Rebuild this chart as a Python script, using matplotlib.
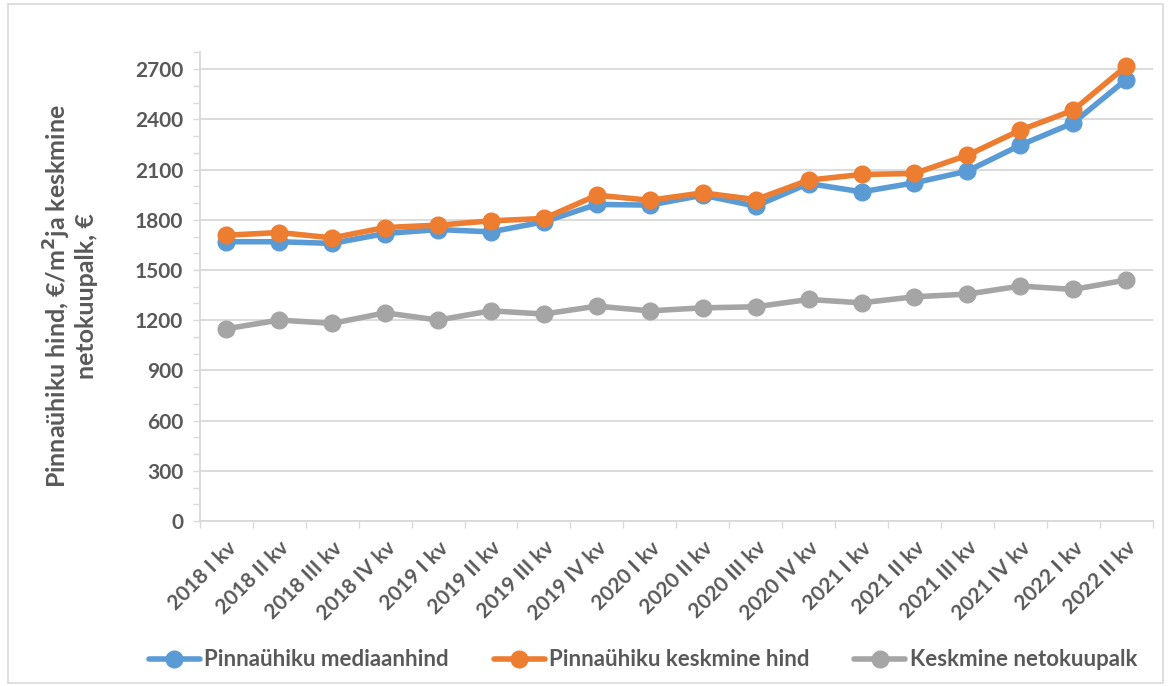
import matplotlib.pyplot as plt
from matplotlib.patches import Rectangle
from matplotlib.ticker import MultipleLocator

quarters = ['2018 I kv', '2018 II kv', '2018 III kv', '2018 IV kv',
            '2019 I kv', '2019 II kv', '2019 III kv', '2019 IV kv',
            '2020 I kv', '2020 II kv', '2020 III kv', '2020 IV kv',
            '2021 I kv', '2021 II kv', '2021 III kv', '2021 IV kv',
            '2022 I kv', '2022 II kv']
median_price = [1669, 1669, 1659, 1718, 1742, 1728, 1788, 1892, 1888,
                1947, 1882, 2017, 1967, 2021, 2091, 2246, 2379, 2638]
mean_price = [1708, 1724, 1692, 1754, 1768, 1794, 1808, 1947, 1917,
              1961, 1921, 2037, 2071, 2077, 2186, 2336, 2455, 2718]
net_wage = [1149, 1201, 1181, 1244, 1201, 1256, 1237, 1284, 1256,
            1274, 1280, 1324, 1304, 1340, 1356, 1404, 1384, 1440]
series_names = ['Pinnaühiku mediaanhind', 'Pinnaühiku keskmine hind', 'Keskmine netokuupalk']
colors = ['#5B9BD5', '#ED7D31', '#A5A5A5']

plt.rcParams['font.family'] = ['Lato', 'DejaVu Sans']
txt = '#595959'
grid = '#D9D9D9'

fig = plt.figure(figsize=(11.69, 6.86), dpi=100)
fig.patches.append(Rectangle((0.007, 0.004), 0.988, 0.99, transform=fig.transFigure,
                             fill=False, edgecolor='#D9D9D9', linewidth=1.2))
ax = fig.add_axes([0.171, 0.2405, 0.815, 0.683])

x = list(range(len(quarters)))
for vals, name, c in zip([median_price, mean_price, net_wage], series_names, colors):
    ax.plot(x, vals, color=c, linewidth=4, marker='o', markersize=12, label=name,
            solid_capstyle='round', solid_joinstyle='round')

ax.set_xlim(-0.5, len(quarters) - 0.5)
ax.set_ylim(0, 2800)
ax.set_yticks(range(0, 2701, 300))
ax.yaxis.set_minor_locator(MultipleLocator(100))
ax.set_xticks(x)
ax.set_xticklabels(quarters, rotation=45, ha='right', rotation_mode='anchor',
                   fontsize=15, fontweight='bold', color=txt)
ax.set_xticks([i - 0.5 for i in range(len(quarters) + 1)], minor=True)
ax.tick_params(axis='x', which='major', length=0, pad=12)
ax.tick_params(axis='x', which='minor', length=5, color=grid, width=1)
ax.tick_params(axis='y', which='both', length=5, color=grid, width=1, labelsize=15,
               labelcolor=txt, pad=7)
for lab in ax.get_yticklabels():
    lab.set_fontweight('bold')

ax.grid(axis='y', which='major', color=grid, linewidth=1.3)
ax.set_axisbelow(True)
for s in ['top', 'right']:
    ax.spines[s].set_visible(False)
ax.spines['left'].set_color(grid)
ax.spines['bottom'].set_color(grid)
ax.spines['left'].set_linewidth(1.3)
ax.spines['bottom'].set_linewidth(1.3)

ax.set_ylabel('Pinnaühiku hind, €/m$^\\mathbf{2}$ja keskmine\nnetokuupalk, €',
              fontsize=18, fontweight='bold', color=txt, linespacing=1.1)
ax.yaxis.label.set_va('center')
ax.yaxis.set_label_coords(-0.136, 0.48)

fig.legend(loc='center', bbox_to_anchor=(0.55, 0.038), ncol=3, frameon=False,
           prop={'weight': 'bold', 'size': 16}, handlelength=2.3,
           handletextpad=0.2, columnspacing=2.0, labelcolor=txt)

fig.savefig('out.png', dpi=100)
